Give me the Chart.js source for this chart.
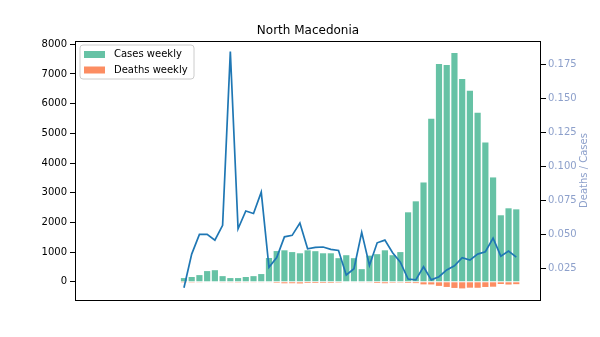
<!DOCTYPE html>
<html>
<head>
<meta charset="utf-8">
<title>North Macedonia</title>
<script src="https://cdn.jsdelivr.net/npm/chart.js@4.4.1/dist/chart.umd.min.js"></script>
<style>
  html, body { margin: 0; padding: 0; background: #ffffff; }
  #wrap { width: 600px; height: 337px; }
</style>
</head>
<body>
<div id="wrap"><canvas id="chart" width="600" height="337"></canvas></div>
<script>
// Week number of each reported week
const weekIndex = [0,1,2,3,4,5,6,7,8,9,10,11,12,13,14,15,16,17,18,19,20,21,
  22,23,24,25,26,27,28,29,30,31,32,33,34,35,36,37,38,39,40,41,42,43];

// New cases per week
const casesWeekly = [125,160,225,360,390,190,125,125,160,190,260,800,1035,1060,
  1000,960,1060,1030,960,960,795,895,795,425,880,930,1060,895,1000,2340,2710,
  3345,5495,7340,7305,7710,6835,6435,5695,4690,3515,2240,2475,2440];

// New deaths per week
const deathsWeekly = [1,6,11,18,18,11,23,7,11,12,21,20,35,51,49,56,42,42,39,38,
  30,18,20,22,24,41,49,33,29,40,45,88,90,138,174,207,223,199,202,175,166,76,93,81];

// Weekly deaths / cases ratio
const deathRatio = [0.0107,0.0355,0.0500,0.0500,0.0457,0.0567,0.1846,0.0541,
  0.0672,0.0654,0.0811,0.0257,0.0330,0.0482,0.0493,0.0584,0.0394,0.0404,0.0407,
  0.0390,0.0382,0.0201,0.0247,0.0515,0.0272,0.0438,0.0458,0.0365,0.0296,0.0171,
  0.0165,0.0262,0.0165,0.0188,0.0238,0.0269,0.0328,0.0311,0.0355,0.0372,0.0473,
  0.0340,0.0377,0.0333];

const leftTicks = [0,1000,2000,3000,4000,5000,6000,7000,8000];
const rightTicks = [0.025,0.050,0.075,0.100,0.125,0.150,0.175];

const titleText = 'North Macedonia';
const rightAxisLabel = 'Deaths / Cases';

const FONT = "'DejaVu Sans', 'Liberation Sans', sans-serif";
const GREEN = '#66c2a5';
const ORANGE = '#fc8d62';
const LINE = '#1f77b4';
const AXIS2 = '#8da0cb';

const casesPoints = weekIndex.map((w, i) => ({ x: w, y: casesWeekly[i] }));
const deathsPoints = weekIndex.map((w, i) => ({ x: w, y: -deathsWeekly[i] }));
const ratioPoints = weekIndex.map((w, i) => ({ x: w, y: deathRatio[i] }));

// Frame, title, right-hand axis label and the in-plot legend
const decorations = {
  id: 'decorations',
  afterDraw(chart) {
    const ctx = chart.ctx;
    const a = chart.chartArea;
    ctx.save();

    ctx.strokeStyle = '#000000';
    ctx.lineWidth = 1;
    ctx.strokeRect(Math.round(a.left) + 0.5, Math.round(a.top) + 0.5,
      Math.round(a.right - a.left) - 1, Math.round(a.bottom - a.top));

    ctx.fillStyle = '#000000';
    ctx.font = '12px ' + FONT;
    ctx.textAlign = 'center';
    ctx.textBaseline = 'alphabetic';
    ctx.fillText(titleText, (a.left + a.right) / 2, 34);

    ctx.save();
    ctx.translate(584, (a.top + a.bottom) / 2);
    ctx.rotate(-Math.PI / 2);
    ctx.fillStyle = AXIS2;
    ctx.font = '10px ' + FONT;
    ctx.textAlign = 'center';
    ctx.textBaseline = 'middle';
    ctx.fillText(rightAxisLabel, 0, 0);
    ctx.restore();

    // legend box
    const bx = a.left + 5, by = a.top + 4, bw = 114, bh = 34;
    ctx.beginPath();
    const r = 3;
    ctx.moveTo(bx + r, by);
    ctx.lineTo(bx + bw - r, by);
    ctx.quadraticCurveTo(bx + bw, by, bx + bw, by + r);
    ctx.lineTo(bx + bw, by + bh - r);
    ctx.quadraticCurveTo(bx + bw, by + bh, bx + bw - r, by + bh);
    ctx.lineTo(bx + r, by + bh);
    ctx.quadraticCurveTo(bx, by + bh, bx, by + bh - r);
    ctx.lineTo(bx, by + r);
    ctx.quadraticCurveTo(bx, by, bx + r, by);
    ctx.closePath();
    ctx.fillStyle = 'rgba(255,255,255,0.8)';
    ctx.fill();
    ctx.strokeStyle = '#cccccc';
    ctx.lineWidth = 1;
    ctx.stroke();

    const entries = chart.data.datasets.filter(d => d.type !== 'line');
    entries.forEach((d, i) => {
      const cy = by + 9 + i * 15.5;
      ctx.fillStyle = d.backgroundColor;
      ctx.fillRect(bx + 4, cy - 3, 21, 7);
      ctx.fillStyle = '#000000';
      ctx.font = '10px ' + FONT;
      ctx.textAlign = 'left';
      ctx.textBaseline = 'middle';
      ctx.fillText(d.label, bx + 34, cy + 0.5);
    });

    ctx.restore();
  }
};

new Chart(document.getElementById('chart'), {
  type: 'bar',
  data: {
    datasets: [
      {
        type: 'line',
        label: 'Deaths / Cases',
        data: ratioPoints,
        yAxisID: 'y2',
        borderColor: LINE,
        backgroundColor: LINE,
        borderWidth: 1.7,
        pointRadius: 0,
        tension: 0,
        order: 0
      },
      {
        label: 'Cases weekly',
        data: casesPoints,
        yAxisID: 'y',
        backgroundColor: GREEN,
        grouped: false,
        barPercentage: 0.8,
        categoryPercentage: 1.0,
        order: 1
      },
      {
        label: 'Deaths weekly',
        data: deathsPoints,
        yAxisID: 'y',
        backgroundColor: ORANGE,
        grouped: false,
        barPercentage: 0.8,
        categoryPercentage: 1.0,
        order: 2
      }
    ]
  },
  options: {
    responsive: false,
    animation: false,
    devicePixelRatio: 1,
    layout: { padding: { left: 0, right: 0, top: 41, bottom: 37 } },
    plugins: {
      legend: { display: false },
      title: { display: false },
      tooltip: { enabled: false }
    },
    scales: {
      x: {
        type: 'linear',
        display: false,
        offset: false,
        min: -14.1,
        max: 46.2
      },
      y: {
        type: 'linear',
        position: 'left',
        min: -614,
        max: 8111,
        afterBuildTicks: s => { s.ticks = leftTicks.map(v => ({ value: v })); },
        afterFit: s => { s.width = 75; },
        border: { display: false },
        grid: { display: true, drawOnChartArea: false, drawTicks: true,
                tickLength: 5, tickColor: '#000000', lineWidth: 1 },
        ticks: { color: '#000000', font: { family: FONT, size: 10 }, padding: 3,
                 callback: v => String(v) }
      },
      y2: {
        type: 'linear',
        position: 'right',
        min: 0.00169,
        max: 0.1924,
        afterBuildTicks: s => { s.ticks = rightTicks.map(v => ({ value: v })); },
        afterFit: s => { s.width = 59; },
        border: { display: false },
        grid: { display: true, drawOnChartArea: false, drawTicks: true,
                tickLength: 5, tickColor: '#000000', lineWidth: 1 },
        ticks: { color: AXIS2, font: { family: FONT, size: 10 }, padding: 2,
                 callback: v => v.toFixed(3) }
      }
    }
  },
  plugins: [decorations]
});
</script>
</body>
</html>
